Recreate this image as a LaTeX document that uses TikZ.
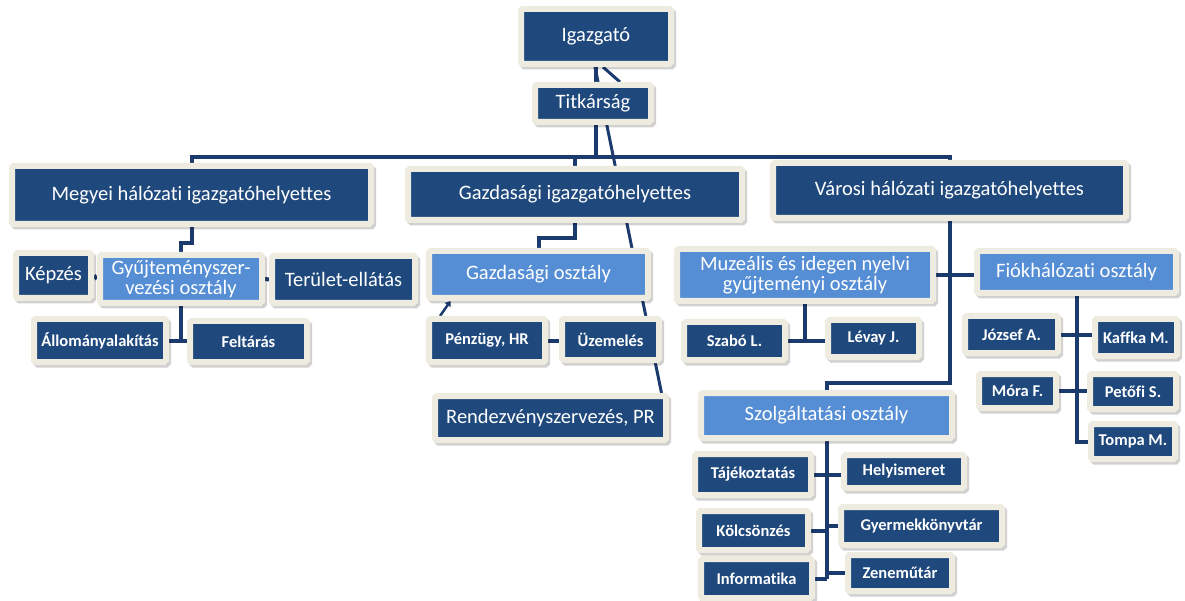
\documentclass[tikz,border=0pt]{standalone}
\usepackage{fontspec}
\setmainfont[Ligatures=NoCommon]{Carlito}
\usetikzlibrary{shadows,arrows.meta}

\definecolor{navy}{HTML}{1F497D}
\definecolor{sky}{HTML}{558ED5}
\definecolor{cream}{HTML}{EEECE1}
\definecolor{wirecol}{HTML}{1B3B6F}

\pgfdeclarelayer{bg}
\pgfsetlayers{bg,main}

\tikzset{
	frame/.style={draw=cream, line width=6pt, rounded corners=1.5pt, text=white, inner sep=0pt, align=center,
		drop shadow={shadow xshift=2pt, shadow yshift=-2.5pt, fill=black, draw=black, line width=6pt, opacity=.18}},
	unit/.style={frame, fill=navy, font=\fontsize{20.5}{20}\selectfont},
	dept/.style={frame, fill=sky, font=\fontsize{20.5}{20}\selectfont},
	person/.style={frame, fill=navy, font=\bfseries\fontsize{16.5}{16}\selectfont},
	sz/.style 2 args={minimum width=#1pt, minimum height=#2pt},
	wire/.style={draw=wirecol, line width=4pt}
}

\begin{document}
\begin{tikzpicture}[x=1pt, y=-1pt]
		\useasboundingbox (0,0) rectangle (1185,601);
		% top
		\node[unit, sz={150}{55}] (igazgato) at (596,36.5) {Igazgató};
		\node[unit, sz={116}{37}] (titkarsag) at (593,103.5) {Titkárság};
		\node[unit, sz={359}{58}] (megyei) at (191.5,195) {Megyei hálózati igazgatóhelyettes};
		\node[unit, sz={334}{51}] (gazd) at (575,194.5) {Gazdasági igazgatóhelyettes};
		\node[unit, sz={353}{55}] (varosi) at (949.5,190.5) {Városi hálózati igazgatóhelyettes};
		% megyei
		\node[unit, sz={75}{45}] (kepzes) at (53.5,275.5) {Képzés};
		\node[dept, sz={162}{48}] (gyujt) at (181,279) {Gyűjteményszer-\\vezési osztály};
		\node[unit, sz={143}{47}] (terulet) at (343.5,279.5) {Terület-ellátás};
		\node[person, sz={132}{43}] (allomany) at (100,340.5) {Állományalakítás};
		\node[person, sz={117}{41}] (feltaras) at (248.5,341.5) {Feltárás};
		% gazdasagi
		\node[dept, sz={219}{47}] (gazdoszt) at (538.5,274.5) {Gazdasági osztály};
		\node[person, sz={116}{43}] (penzugy) at (487,340.5) {Pénzügy, HR};
		\node[person, sz={97}{41}] (uzemeles) at (610.5,339.5) {Üzemelés};
		\node[unit, sz={231}{44}] (rendezveny) at (550.5,418) {Rendezvényszervezés, PR};
		% varosi
		\node[dept, sz={256}{52}] (muzealis) at (805,275) {Muzeális és idegen nyelvi\\gyűjteményi osztály};
		\node[dept, sz={199}{42}] (fiok) at (1076.5,272) {Fiókhálózati osztály};
		\node[person, sz={101}{38}] (szabo) at (734.5,341) {Szabó L.};
		\node[person, sz={91}{37}] (levay) at (873.5,338.5) {Lévay J.};
		\node[person, sz={93}{37}] (jozsef) at (1011.5,334.5) {József A.};
		\node[person, sz={82}{37}] (kaffka) at (1136,337.5) {Kaffka M.};
		\node[person, sz={77}{34}] (mora) at (1017.5,391) {Móra F.};
		\node[person, sz={86}{35}] (petofi) at (1133,391.5) {Petőfi S.};
		\node[person, sz={84}{35}] (tompa) at (1133,441.5) {Tompa M.};
		\node[dept, sz={251}{45}] (szolg) at (826.5,415.5) {Szolgáltatási osztály};
		\node[person, sz={116}{41}] (tajek) at (753,474.5) {Tájékoztatás};
		\node[person, sz={120}{33}] (helyism) at (904,471.5) {Helyismeret};
		\node[person, sz={109}{39}] (kolcson) at (753.5,530.5) {Kölcsönzés};
		\node[person, sz={161}{38}] (gyermek) at (921.5,526) {Gyermekkönyvtár};
		\node[person, sz={111}{39}] (informatika) at (756.5,578.5) {Informatika};
		\node[person, sz={104}{36}] (zenemutar) at (900,573) {Zeneműtár};

		\begin{pgfonlayer}{bg}
			\coordinate (hub) at (597,157);
			\draw[wire] (igazgato.south) -- (igazgato.south |- hub);
			\draw[wire] (megyei.north) |- (hub) -| (varosi.north);
			\draw[wire] (gazd.north) -- (gazd.north |- hub);
			\draw[wire, line width=3pt] ([xshift=7pt]igazgato.south) -- ([xshift=27pt]titkarsag.north);
			\draw[wire, line width=3pt] ([xshift=-1pt]igazgato.south) -- ([xshift=111pt]rendezveny.north);
			% megyei
			\draw[wire] (megyei.south) -- ++(0,16) -| (gyujt.north);
			\draw[wire] (kepzes.east) -- (gyujt.west);
			\draw[wire] (gyujt.east) -- (terulet.west);
			\draw[wire] (gyujt.south) -- (gyujt.south |- allomany.east);
			\draw[wire] (allomany.east) -- (allomany.east -| feltaras.west);
			% gazdasagi
			\draw[wire] (gazd.south) -- ++(0,15) -| (gazdoszt.north);
			\draw[wire] (penzugy.east) -- (penzugy.east -| uzemeles.west);
			\draw[wire, line width=2.5pt, -{Triangle[width=7pt,length=5pt]}] ([xshift=-47pt]penzugy.north) -- ([xshift=-88pt]gazdoszt.south);
			% varosi
			\draw[wire] (varosi.south) -- ++(0,162) -| (szolg.north);
			\draw[wire] (muzealis.east) -- (muzealis.east -| fiok.west);
			\draw[wire] (muzealis.south) -- (muzealis.south |- szabo.east);
			\draw[wire] (szabo.east) -- (szabo.east -| levay.west);
			\draw[wire] (fiok.south) |- (tompa.west);
			\draw[wire] (jozsef.east) -- (jozsef.east -| kaffka.west);
			\draw[wire] (mora.east) -- (mora.east -| petofi.west);
			\draw[wire] (szolg.south) -- (szolg.south |- informatika.east);
			\draw[wire] (tajek.east) -- (tajek.east -| helyism.west);
			\draw[wire] (kolcson.east) -- (kolcson.east -| szolg.south);
			\draw[wire] (gyermek.west) -- (gyermek.west -| szolg.south);
			\draw[wire] (informatika.east) -- (informatika.east -| szolg.south);
			\draw[wire] (zenemutar.west) -- (zenemutar.west -| szolg.south);
		\end{pgfonlayer}
	\end{tikzpicture}
\end{document}
